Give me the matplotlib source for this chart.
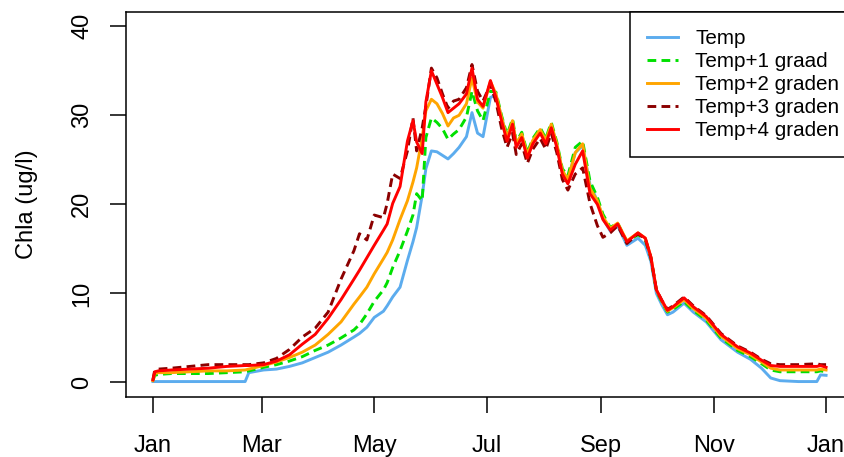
# Chla simulations for the temperature scenarios
import matplotlib
matplotlib.use('Agg')
import matplotlib.pyplot as plt
import numpy as np

plt.rcParams['font.family'] = ['Liberation Sans', 'DejaVu Sans']

# day of year
days = [0, 1, 3, 10, 20, 30, 40, 50, 52, 60,
        67, 74, 81, 88, 95, 102, 109, 112, 116, 120,
        125, 127, 130, 134, 138, 141, 143, 146, 148, 151,
        154, 157, 160, 163, 166, 170, 173, 176, 179, 183,
        186, 189, 192, 195, 197, 200, 203, 206, 210, 213,
        216, 219, 222, 225, 229, 233, 237, 241, 244, 248,
        252, 257, 263, 267, 270, 273, 276, 279, 282, 288,
        293, 300, 308, 317, 324, 330, 335, 340, 350, 360,
        362, 365]

# chla (ug/l) per scenario
temp0 = [0.1, 0.1, 0.1, 0.1, 0.1, 0.1, 0.1, 0.1, 1.1, 1.4,
         1.5, 1.8, 2.2, 2.8, 3.4, 4.2, 5.1, 5.5, 6.2, 7.3,
         8.0, 8.6, 9.6, 10.7, 13.7, 15.8, 17.4, 21.0, 24.0, 26.0,
         25.9, 25.5, 25.1, 25.7, 26.4, 27.6, 30.3, 28.0, 27.6, 32.0,
         32.3, 29.8, 27.6, 29.3, 26.8, 27.8, 25.6, 27.1, 28.3, 27.1,
         28.9, 26.7, 23.7, 22.8, 25.8, 26.6, 22.2, 20.4, 18.4, 17.0,
         17.6, 15.4, 16.2, 15.4, 13.6, 10.0, 8.7, 7.6, 7.9, 8.9,
         7.9, 6.8, 4.8, 3.4, 2.6, 1.6, 0.5, 0.2, 0.1, 0.1,
         0.85, 0.8]
temp1 = [0.2, 0.8, 0.9, 1.0, 1.0, 1.0, 1.1, 1.2, 1.3, 1.7,
         2.0, 2.4, 2.9, 3.6, 4.2, 5.0, 5.9, 6.5, 7.7, 9.1,
         10.4, 11.2, 12.9, 14.8, 17.0, 18.8, 21.2, 20.4, 27.5, 29.7,
         29.2, 28.5, 27.3, 27.9, 28.4, 29.8, 32.7, 30.5, 29.4, 32.7,
         32.6, 30.0, 27.8, 29.6, 27.0, 28.1, 25.8, 27.4, 28.6, 27.4,
         29.2, 27.0, 24.0, 23.2, 26.4, 27.1, 22.6, 20.8, 18.9, 17.4,
         17.9, 15.8, 16.6, 16.0, 14.0, 10.3, 9.0, 7.9, 8.2, 9.1,
         8.1, 7.0, 5.0, 3.6, 2.9, 2.1, 1.4, 1.2, 1.2, 1.2,
         1.3, 1.2]
temp2 = [0.2, 1.0, 1.1, 1.1, 1.2, 1.3, 1.3, 1.4, 1.5, 1.9,
         2.3, 2.8, 3.4, 4.2, 5.4, 6.8, 8.8, 9.6, 10.7, 12.2,
         13.9, 14.6, 16.0, 18.3, 20.4, 22.5, 24.1, 27.5, 30.5, 31.8,
         31.3, 30.2, 28.8, 29.7, 30.0, 31.3, 34.2, 31.5, 30.8, 33.8,
         32.4, 29.8, 27.5, 29.4, 26.8, 27.9, 25.6, 27.2, 28.4, 27.2,
         29.0, 26.8, 23.8, 22.8, 25.8, 26.8, 21.8, 20.4, 18.6, 17.3,
         17.9, 15.9, 16.8, 16.2, 14.1, 10.4, 9.1, 8.0, 8.4, 9.3,
         8.3, 7.2, 5.2, 3.8, 3.1, 2.3, 1.6, 1.4, 1.4, 1.4,
         1.5, 1.4]
temp3 = [0.3, 1.4, 1.5, 1.6, 1.8, 2.0, 2.0, 2.0, 2.0, 2.2,
         2.7, 3.7, 5.1, 6.1, 7.9, 11.6, 14.8, 16.7, 16.0, 18.8,
         18.5, 20.1, 23.4, 22.9, 26.0, 29.7, 26.0, 28.6, 31.0, 35.3,
         34.2, 32.4, 30.8, 31.6, 31.8, 33.1, 35.7, 32.7, 31.6, 33.5,
         31.5, 28.6, 26.4, 28.0, 25.6, 26.8, 24.6, 26.2, 27.4, 26.2,
         28.0, 25.8, 22.8, 21.6, 23.4, 24.1, 20.1, 17.6, 16.3, 16.8,
         17.6, 15.6, 16.7, 16.1, 14.0, 10.4, 9.2, 8.2, 8.6, 9.6,
         8.6, 7.5, 5.5, 4.1, 3.4, 2.6, 2.1, 2.0, 2.0, 2.1,
         2.0, 2.0]
temp4 = [0.3, 1.2, 1.3, 1.4, 1.5, 1.6, 1.8, 1.9, 1.9, 2.0,
         2.4, 3.1, 4.3, 5.4, 7.2, 9.3, 11.6, 12.6, 14.0, 15.4,
         17.1, 17.8, 20.1, 22.0, 27.1, 29.4, 27.0, 25.7, 31.5, 35.0,
         33.5, 32.0, 30.3, 30.8, 31.3, 32.4, 35.3, 31.8, 31.0, 33.9,
         32.0, 29.4, 27.1, 29.0, 26.4, 27.5, 25.2, 26.8, 28.0, 26.8,
         28.6, 26.4, 23.4, 22.3, 24.5, 26.0, 21.2, 20.0, 18.3, 17.1,
         17.8, 15.8, 16.8, 16.2, 14.1, 10.4, 9.2, 8.1, 8.5, 9.5,
         8.5, 7.4, 5.4, 4.0, 3.3, 2.5, 1.9, 1.8, 1.8, 1.8,
         1.9, 1.7]

labels = ['Temp', 'Temp+1 graad', 'Temp+2 graden', 'Temp+3 graden', 'Temp+4 graden']
month_days = [0, 59, 120, 181, 243, 304, 365]
month_labels = ['Jan', 'Mar', 'May', 'Jul', 'Sep', 'Nov', 'Jan']

fig = plt.figure(figsize=(8.44, 4.57), dpi=100)
ax = fig.add_axes([126/844, 60.3/457, 727/844, 384.7/457])

ax.plot(days, temp0, '-', color='#5cacee', lw=2.1, label=labels[0])
ax.plot(days, temp1, '--', color='#00e000', lw=2.1, dashes=(3, 1.8), label=labels[1])
ax.plot(days, temp2, '-', color='#ffa500', lw=2.1, label=labels[2])
ax.plot(days, temp3, '--', color='#8b0000', lw=2.1, dashes=(3, 1.8), label=labels[3])
ax.plot(days, temp4, '-', color='#ff0000', lw=2.1, label=labels[4])

# axes, R style
ax.set_xlim(-14.6, 379.6)
ax.set_ylim(-1.6, 41.6)
ax.set_xticks(month_days)
ax.set_xticklabels(month_labels)
ax.set_yticks([0, 10, 20, 30, 40])
for s in ax.spines.values():
    s.set_linewidth(1.1)
ax.tick_params(length=11.5, width=1.1, labelsize=17)
ax.tick_params(axis='x', pad=16)
ax.tick_params(axis='y', labelrotation=90, pad=12)
for t in ax.get_yticklabels():
    t.set_va('center')
ax.set_ylabel('Chla (ug/l)', fontsize=17, labelpad=24)

# legend
leg = ax.legend(loc='upper left', bbox_to_anchor=(630/844, 1 - 12.3/457),
                bbox_transform=fig.transFigure, borderaxespad=0, fontsize=14.9,
                handlelength=1.5, handletextpad=0.85, labelspacing=0.2,
                borderpad=0.8, fancybox=False, framealpha=1, edgecolor='black')
leg.get_frame().set_linewidth(1.1)

plt.savefig('out.png', dpi=100)
